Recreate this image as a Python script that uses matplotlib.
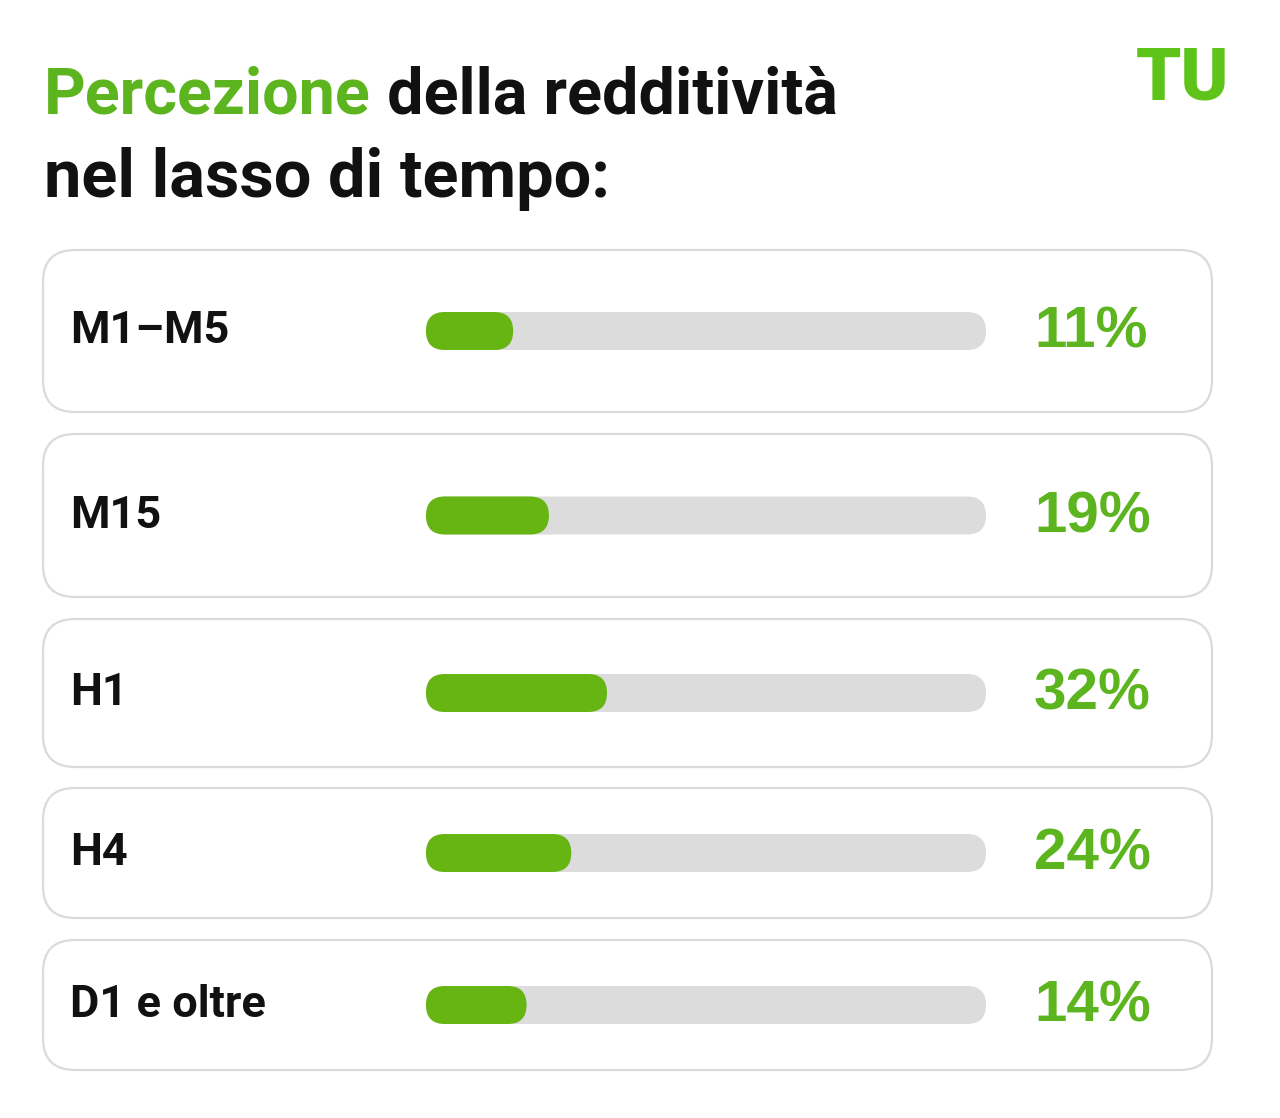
import matplotlib
matplotlib.use("Agg")
import matplotlib.pyplot as plt
from matplotlib.patches import FancyBboxPatch

# data
labels = ["M1\u2013M5", "M15", "H1", "H4", "D1 e oltre"]
values = [11, 19, 32, 24, 14]
title_green = "Percezione"
title_rest = " della redditività"
title_line2 = "nel lasso di tempo:"
logo = "TU"

GREEN = "#5cb51e"
BAR_GREEN = "#66b513"
TRACK = "#dcdcdc"
BORDER = "#dadada"

W, H = 1280, 1118

# card layout (pixel rows, top/bottom)
card_top = [250, 434, 619, 788, 940]
card_bot = [412, 597, 767, 918, 1070]
CARD_X0, CARD_X1 = 43, 1212

BAR_X0, BAR_X1 = 426, 986
BAR_H = 38
PX_PER_PCT = 4.47


def main():
    fig = plt.figure(figsize=(W / 100, H / 100), dpi=100)
    fig.patch.set_facecolor("white")
    ax = fig.add_axes([0, 0, 1, 1])
    ax.set_xlim(0, W)
    ax.set_ylim(H, 0)
    ax.set_aspect("equal")
    ax.axis("off")

    # title
    t1 = ax.text(44, 113, title_green, color=GREEN, fontsize=46.5,
                 fontfamily="Roboto", fontweight="bold", va="baseline")
    ax.annotate(title_rest, xy=(1, 0), xycoords=t1, va="bottom",
                color="#111111", fontsize=46.5, fontfamily="Roboto",
                fontweight="bold")
    ax.text(44, 197, title_line2, color="#111111", fontsize=48,
            fontfamily="Roboto", fontweight="bold", va="baseline")

    # logo
    ax.text(1229, 100, logo, color="#5fc41a", fontsize=52,
            fontfamily="Roboto", fontweight="black", ha="right",
            va="baseline")

    for lab, val, top, bot in zip(labels, values, card_top, card_bot):
        cy = (top + bot) / 2
        card = FancyBboxPatch((CARD_X0, top), CARD_X1 - CARD_X0, bot - top,
                              boxstyle="round,pad=0,rounding_size=32",
                              facecolor="white", edgecolor=BORDER, lw=1.6)
        ax.add_patch(card)

        ax.text(70, cy, lab, color="#111111", fontsize=32.5,
                fontfamily="Roboto", fontweight="bold", va="center")

        track = FancyBboxPatch((BAR_X0, cy - BAR_H / 2), BAR_X1 - BAR_X0,
                               BAR_H,
                               boxstyle=f"round,pad=0,rounding_size={BAR_H / 2}",
                               facecolor=TRACK, edgecolor="none")
        ax.add_patch(track)
        fill_w = BAR_H + val * PX_PER_PCT
        fill = FancyBboxPatch((BAR_X0, cy - BAR_H / 2), fill_w, BAR_H,
                              boxstyle=f"round,pad=0,rounding_size={BAR_H / 2}",
                              facecolor=BAR_GREEN, edgecolor="none")
        ax.add_patch(fill)

        ax.text(1034, cy + 2, f"{val}%", color=GREEN, fontsize=42,
                fontfamily="Liberation Sans", fontweight="bold",
                va="center")

    fig.savefig("out.png", dpi=100, facecolor="white")
    plt.close(fig)


if __name__ == "__main__":
    main()
